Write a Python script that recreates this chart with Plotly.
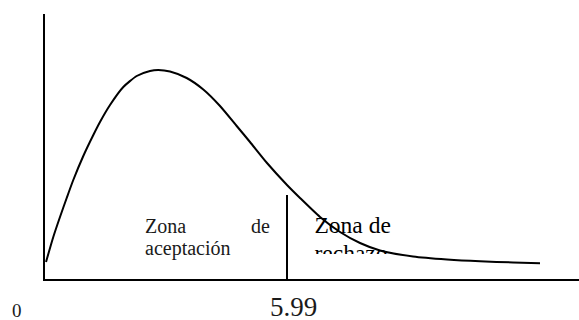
import plotly.graph_objects as go

# curve (chi-square value, density-like height)
curve_x = [0.025, 0.205, 0.371, 0.537, 0.700, 0.948, 1.196, 1.361, 1.609, 1.938, 2.270, 2.599,
           2.804, 3.094, 3.507, 3.918, 4.332, 4.745, 5.074, 5.495, 5.99, 6.312, 6.807, 7.302,
           7.797, 8.292, 9.109, 9.950, 10.767, 11.584, 12.252]
curve_y = [0.017, 0.042, 0.062, 0.081, 0.099, 0.123, 0.144, 0.157, 0.174, 0.192, 0.203, 0.208,
           0.209, 0.2075, 0.201, 0.1895, 0.173, 0.153, 0.137, 0.116, 0.094, 0.081, 0.062, 0.047,
           0.036, 0.0285, 0.0225, 0.0195, 0.0177, 0.0166, 0.0158]

critical_value = 5.99
critical_height = 0.084
x_labels = ["0", "5.99"]
zone_accept = ["Zona", "de", "aceptación"]
zone_reject = ["Zona de", "rechazo"]

SERIF = "Liberation Serif"
W, H = 579, 320
X_MAX = 13.217
Y_MAX = 0.265

fig = go.Figure()

fig.add_trace(go.Scatter(
    x=curve_x, y=curve_y, mode="lines", line=dict(color="black", width=2, shape="spline", smoothing=0.6),
    hoverinfo="skip", showlegend=False,
))
fig.add_trace(go.Scatter(
    x=[critical_value, critical_value], y=[0, critical_height], mode="lines",
    line=dict(color="black", width=2), hoverinfo="skip", showlegend=False,
))

# "Zona de rechazo" sits in a text box that clips the second line
fig.add_trace(go.Scatter(
    x=[6.67, 6.67], y=[0.052, 0.024], mode="text", text=zone_reject,
    textposition="middle right", textfont=dict(family=SERIF, size=23.5, color="black"),
    cliponaxis=True, xaxis="x2", yaxis="y2", hoverinfo="skip", showlegend=False,
))

x_dom = [45 / W, 1]
fig.update_layout(
    width=W, height=H,
    margin=dict(l=0, r=0, t=0, b=0),
    paper_bgcolor="white", plot_bgcolor="rgba(0,0,0,0)",
    font=dict(family=SERIF),
    xaxis=dict(domain=x_dom, range=[0, X_MAX], showline=True, linecolor="black", linewidth=2,
               showgrid=False, zeroline=False, showticklabels=False, ticks=""),
    yaxis=dict(domain=[41 / H, 306 / H], range=[0, Y_MAX], showline=True, linecolor="black",
               linewidth=2, showgrid=False, zeroline=False, showticklabels=False, ticks=""),
    xaxis2=dict(domain=x_dom, range=[0, X_MAX], anchor="y2", visible=False),
    yaxis2=dict(domain=[66 / H, 306 / H], range=[0.025, Y_MAX], anchor="x2", visible=False),
    showlegend=False,
)

acc_font = dict(family=SERIF, size=20, color="#1a1a1a")
fig.add_annotation(x=2.43, y=0.053, xref="x", yref="y", text=zone_accept[0], showarrow=False,
                   xanchor="left", yanchor="middle", font=acc_font)
fig.add_annotation(x=5.62, y=0.053, xref="x", yref="y", text=zone_accept[1], showarrow=False,
                   xanchor="right", yanchor="middle", font=acc_font)
fig.add_annotation(x=2.43, y=0.031, xref="x", yref="y", text=zone_accept[2], showarrow=False,
                   xanchor="left", yanchor="middle", font=acc_font)

# labels under the axis: paper y so they are not dropped as off-range
fig.add_annotation(x=0, y=10 / H, xref="x", yref="paper", xshift=-28, text=x_labels[0], showarrow=False,
                   xanchor="center", yanchor="middle", font=dict(family=SERIF, size=19, color="#1a1a1a"))
fig.add_annotation(x=critical_value, y=13.5 / H, xref="x", yref="paper", xshift=6, text=x_labels[1],
                   showarrow=False, xanchor="center", yanchor="middle",
                   font=dict(family=SERIF, size=27, color="#1a1a1a"))

# page body has a default 8px margin; drop it so the figure fills the window
fig.write_html("out.html", config={"displayModeBar": False},
               post_script="document.body.style.margin='0';")
